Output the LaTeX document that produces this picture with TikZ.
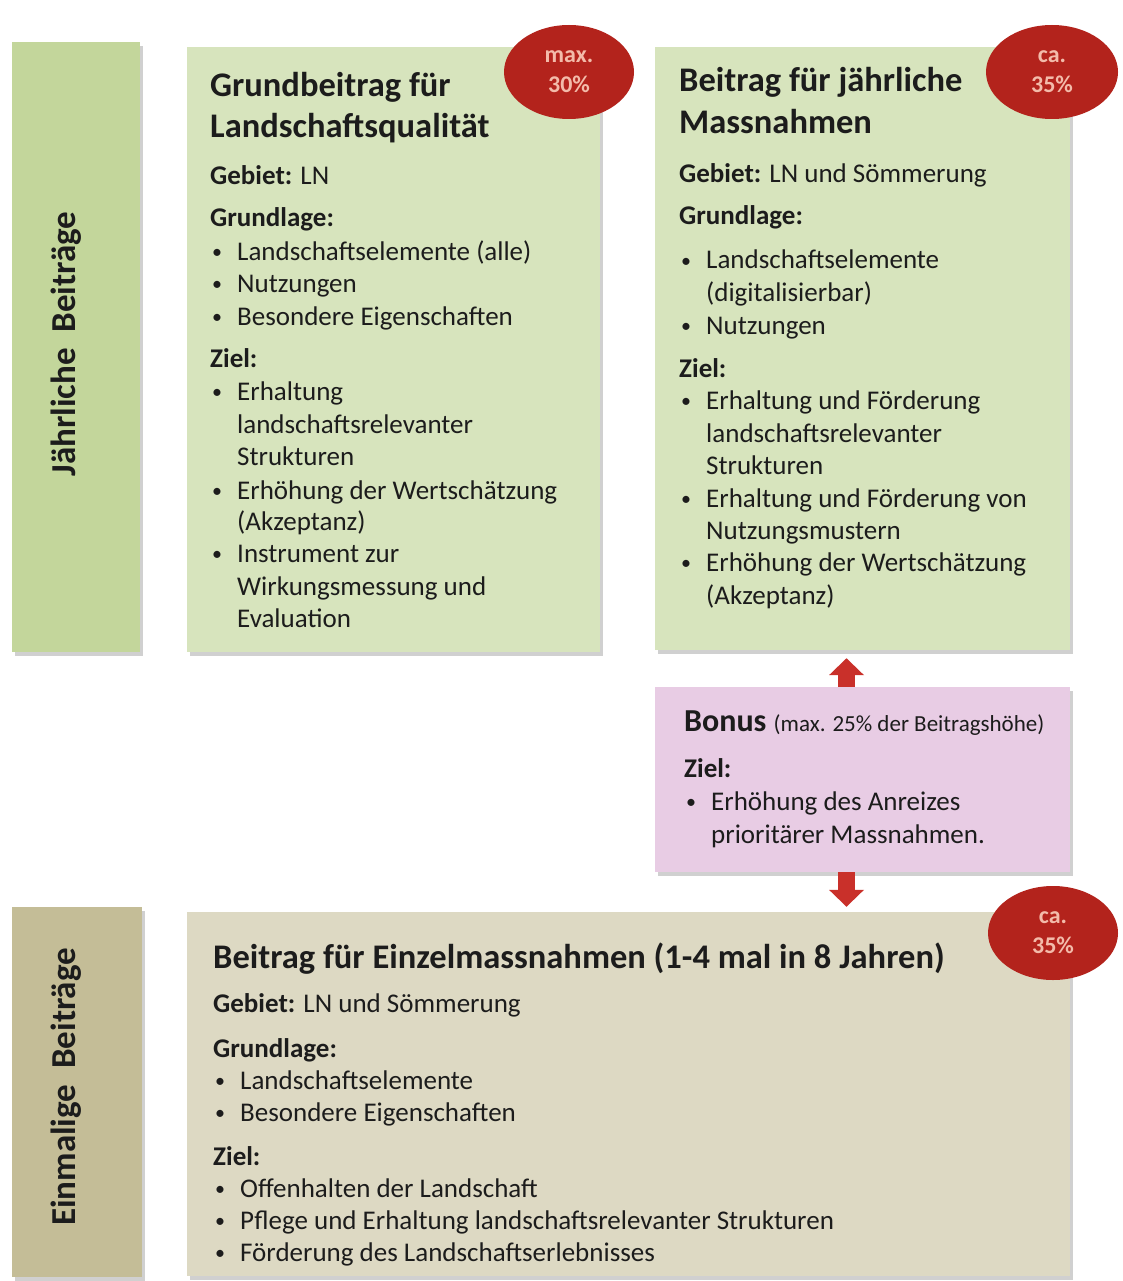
\documentclass[tikz,border=0pt]{standalone}
\usepackage{fontspec}
\setmainfont{Carlito}
\usetikzlibrary{fit,shadows,arrows.meta,shapes.geometric}
\definecolor{barG}{HTML}{C3D69B}
\definecolor{boxG}{HTML}{D7E4BD}
\definecolor{barT}{HTML}{C4BD97}
\definecolor{boxT}{HTML}{DDD9C3}
\definecolor{boxP}{HTML}{E8CCE4}
\definecolor{ovalR}{HTML}{B3231C}
\definecolor{ovalT}{HTML}{F3BBAA}
\definecolor{arrR}{HTML}{C9302A}
\definecolor{ink}{HTML}{1C1C1C}
\newcommand\bitem{\makebox[27pt][l]{\hspace{2pt}\raisebox{1.5pt}{\fontsize{20}{20}\selectfont •}}}
\newcommand\bcont{\hspace*{27pt}}
\tikzset{
 panel/.style={inner sep=0pt, draw=none, drop shadow={shadow xshift=3pt, shadow yshift=-4pt, opacity=.3, fill=black!60}},
 ttl/.style={font=\fontsize{34.5}{41}\selectfont\bfseries, text=ink, inner sep=0pt, anchor=base west},
 txt/.style={font=\fontsize{27}{32}\selectfont, text=ink, inner sep=0pt, anchor=base west},
 side/.style={font=\fontsize{35}{40}\selectfont\bfseries, text=ink, rotate=90, inner sep=0pt},
 oval/.style={ellipse, fill=ovalR, inner sep=0pt, font=\fontsize{24}{30}\selectfont\bfseries, text=ovalT, align=center},
 bigarrow/.style={draw=arrR, line width=17pt, -{Triangle[width=34pt,length=17pt]}},
}
\begin{document}
\begin{tikzpicture}[x=1pt,y=-1pt]
\useasboundingbox (0,0) rectangle (1122,1281);
\fill[white] (0,0) rectangle (1122,1281);
% panels
\node[panel, fill=barG, fit={(12,42) (140,652)}] (bar1) {};
\node[panel, fill=boxG, fit={(187,47) (600,652)}] (b1) {};
\node[panel, fill=boxG, fit={(655,47) (1070,650)}] (b2) {};
\node[panel, fill=boxP, fit={(655,687) (1070,872)}] (bonus) {};
\node[panel, fill=barT, fit={(12,907) (142,1277)}] (bar2) {};
\node[panel, fill=boxT, fit={(187,912) (1070,1276)}] (b3) {};
% arrows
\draw[bigarrow, shorten >=8pt] ([xshift=-16pt]bonus.north) -- ([xshift=-16pt]bonus.north |- b2.south);
\draw[bigarrow, shorten >=5pt] ([xshift=-16pt]bonus.south) -- ([xshift=-16pt]bonus.south |- b3.north);
% side labels
\node[side] (lab1) at (66,344) {Jährliche\ \ Beiträge};
\node[side] (lab2) at (66,1087) {Einmalige\ \ Beiträge};
% ovals
\node[oval, minimum width=130pt, minimum height=94pt] (e1) at (569,72) {max.\\30\%};
\node[oval, minimum width=132pt, minimum height=94pt] (e2) at (1052,72) {ca.\\35\%};
\node[oval, minimum width=130pt, minimum height=94pt] (e3) at (1053,933) {ca.\\35\%};
% box 1
\node[ttl] (t1a) at (210,97) {Grundbeitrag für};
\node[ttl] (t1b) at (210,138) {Landschaftsqualität};
\foreach \yy/\ttx [count=\i] in {
 185/{\textbf{Gebiet:} LN},
 227/{\textbf{Grundlage:}},
 260/{\bitem Landschaftselemente (alle)},
 292/{\bitem Nutzungen},
 325/{\bitem Besondere Eigenschaften},
 367/{\textbf{Ziel:}},
 400/{\bitem Erhaltung},
 433/{\bcont landschaftsrelevanter},
 465/{\bcont Strukturen},
 499/{\bitem Erhöhung der Wertschätzung},
 530/{\bcont (Akzeptanz)},
 562/{\bitem Instrument zur},
 595/{\bcont Wirkungsmessung und},
 627/{\bcont Evaluation}}
 {\node[txt] (a\i) at (210,\yy) {\ttx};}
% box 2
\node[ttl] (t2a) at (679,92) {Beitrag für jährliche};
\node[ttl] (t2b) at (679,134) {Massnahmen};
\foreach \yy/\ttx [count=\i] in {
 183/{\textbf{Gebiet:} LN und Sömmerung},
 225/{\textbf{Grundlage:}},
 269/{\bitem Landschaftselemente},
 301/{\bcont (digitalisierbar)},
 334/{\bitem Nutzungen},
 377/{\textbf{Ziel:}},
 409/{\bitem Erhaltung und Förderung},
 442/{\bcont landschaftsrelevanter},
 474/{\bcont Strukturen},
 507/{\bitem Erhaltung und Förderung von},
 539/{\bcont Nutzungsmustern},
 571/{\bitem Erhöhung der Wertschätzung},
 604/{\bcont (Akzeptanz)}}
 {\node[txt] (b\i) at (679,\yy) {\ttx};}
% bonus
\node[ttl, font=\fontsize{32}{38}\selectfont\bfseries] (t4) at (684,731) {Bonus {\fontsize{23}{26}\selectfont\mdseries (max. 25\% der Beitragshöhe)}};
\foreach \yy/\ttx [count=\i] in {
 777/{\textbf{Ziel:}},
 810/{\bitem Erhöhung des Anreizes},
 843/{\bcont prioritärer Massnahmen.}}
 {\node[txt] (c\i) at (684,\yy) {\ttx};}
% box 3
\node[ttl] (t3) at (213,968) {Beitrag für Einzelmassnahmen (1-4 mal in 8 Jahren)};
\foreach \yy/\ttx [count=\i] in {
 1012/{\textbf{Gebiet:} LN und Sömmerung},
 1057/{\textbf{Grundlage:}},
 1089/{\bitem Landschaftselemente},
 1121/{\bitem Besondere Eigenschaften},
 1165/{\textbf{Ziel:}},
 1197/{\bitem Offenhalten der Landschaft},
 1229/{\bitem Pflege und Erhaltung landschaftsrelevanter Strukturen},
 1261/{\bitem Förderung des Landschaftserlebnisses}}
 {\node[txt] (d\i) at (213,\yy) {\ttx};}
\end{tikzpicture}
\end{document}
